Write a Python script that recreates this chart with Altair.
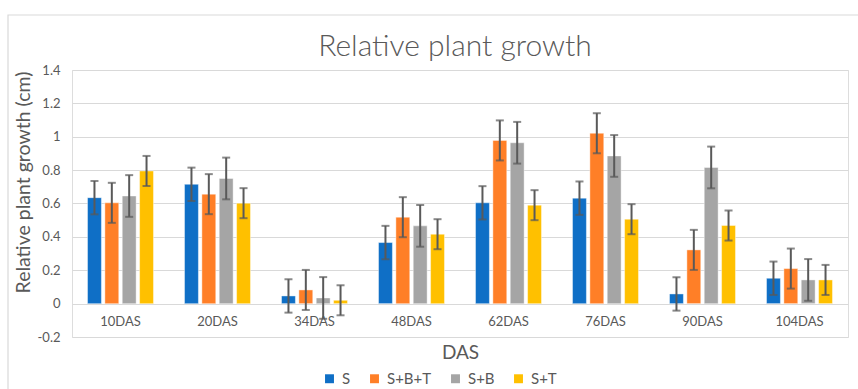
import altair as alt
import pandas as pd

categories = ["10DAS", "20DAS", "34DAS", "48DAS", "62DAS", "76DAS", "90DAS", "104DAS"]
series = ["S", "S+B+T", "S+B", "S+T"]
colors = ["#0F6FC6", "#FF7F27", "#A5A5A5", "#FFC000"]

s_vals = [0.635, 0.715, 0.046, 0.366, 0.604, 0.632, 0.058, 0.152]
sbt_vals = [0.604, 0.656, 0.082, 0.518, 0.978, 1.021, 0.322, 0.210]
sb_vals = [0.645, 0.750, 0.034, 0.466, 0.964, 0.885, 0.816, 0.142]
st_vals = [0.795, 0.602, 0.020, 0.416, 0.590, 0.506, 0.468, 0.142]

s_err = [0.10, 0.10, 0.10, 0.10, 0.10, 0.10, 0.10, 0.10]
sbt_err = [0.12, 0.12, 0.12, 0.12, 0.12, 0.12, 0.12, 0.12]
sb_err = [0.125, 0.125, 0.125, 0.125, 0.125, 0.125, 0.125, 0.125]
st_err = [0.09, 0.09, 0.09, 0.09, 0.09, 0.09, 0.09, 0.09]

y_ticks = [-0.2, 0, 0.2, 0.4, 0.6, 0.8, 1, 1.2, 1.4]

rows = []
for name, vals, errs in [("S", s_vals, s_err), ("S+B+T", sbt_vals, sbt_err),
                         ("S+B", sb_vals, sb_err), ("S+T", st_vals, st_err)]:
    for c, v, e in zip(categories, vals, errs):
        rows.append({"DAS": c, "series": name, "value": v, "lo": v - e, "hi": v + e})
df = pd.DataFrame(rows)

FONT = "Lato"
GREY = "#595959"

x_enc = alt.X("DAS:N", sort=categories, scale=alt.Scale(paddingInner=0.32, paddingOuter=0.16),
              axis=alt.Axis(title="DAS", labelAngle=0, domain=False, ticks=False, offset=-34,
                            labelPadding=12, titlePadding=15, labelFontSize=13,
                            titleFontSize=19, titleFontWeight="normal", labelColor=GREY,
                            titleColor=GREY, labelFont=FONT, titleFont=FONT))
xo = alt.XOffset("series:N", sort=series, scale=alt.Scale(paddingInner=0.2))
y_scale = alt.Scale(domain=[-0.2, 1.4], nice=False)

base = alt.Chart(df)

bars = base.mark_bar(stroke="white", strokeWidth=0.6, strokeOpacity=0.7).encode(
    x=x_enc,
    xOffset=xo,
    y=alt.Y("value:Q", scale=y_scale,
            axis=alt.Axis(title="Relative plant growth (cm)", values=y_ticks, tickCount=12,
                          labelExpr="datum.value < 0 ? '-' + format(-datum.value, '~g') : format(datum.value, '~g')",
                          labelOverlap=False,
                          domain=False, ticks=False, labelPadding=12,
                          titleX=-49, titleY=112, titleAngle=270, titleAlign="center",
                          titleBaseline="middle",
                          labelFontSize=13, titleFontSize=19.5,
                          titleFontWeight="normal", labelColor=GREY, titleColor=GREY,
                          gridColor="#D9D9D9", gridWidth=1.2, labelFont=FONT, titleFont=FONT)),
    y2=alt.datum(0),
    color=alt.Color("series:N", sort=series, scale=alt.Scale(domain=series, range=colors),
                    legend=alt.Legend(title=None, orient="none", legendX=250, legendY=301,
                                      direction="horizontal", symbolType="square",
                                      symbolSize=80, symbolStrokeWidth=0, labelFontSize=15,
                                      labelColor=GREY, labelFont=FONT, columnPadding=16,
                                      labelOffset=5)),
)

err = base.mark_rule(color=GREY, strokeWidth=2).encode(
    x=alt.X("DAS:N", sort=categories), xOffset=xo,
    y=alt.Y("lo:Q", scale=y_scale), y2="hi:Q")

caps_hi = base.mark_tick(color=GREY, thickness=2, size=8, orient="horizontal").encode(
    x=alt.X("DAS:N", sort=categories), xOffset=xo, y=alt.Y("hi:Q", scale=y_scale))
caps_lo = base.mark_tick(color=GREY, thickness=2, size=8, orient="horizontal").encode(
    x=alt.X("DAS:N", sort=categories), xOffset=xo, y=alt.Y("lo:Q", scale=y_scale))

frame = alt.Chart(pd.DataFrame({"k": [0]})).mark_rect(
    fill=None, stroke="#D9D9D9", strokeWidth=1.2).encode(
    x=alt.value(-64), x2=alt.value(800), y=alt.value(-55), y2=alt.value(330))

chart = alt.layer(frame, bars, err, caps_hi, caps_lo).properties(
    width=776, height=267,
    autosize=alt.AutoSizeParams(type="none"),
    padding={"left": 72, "top": 70, "right": 10, "bottom": 52},
    title=alt.TitleParams("Relative plant growth", fontSize=30, font=FONT, fontWeight=300,
                          color=GREY, anchor="middle", offset=10, dx=-5, dy=58),
).configure_view(stroke=None).configure(background="white")

chart.save("out.html", embed_options={"renderer": "svg", "actions": False})
